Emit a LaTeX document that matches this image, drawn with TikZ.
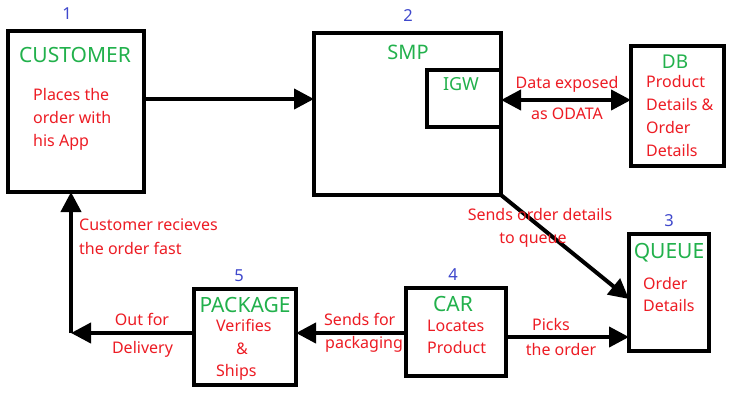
\documentclass[tikz,border=0pt]{standalone}
\usepackage{fontspec}
\setmainfont{Noto Sans}
\usetikzlibrary{arrows.meta}
\definecolor{pgreen}{HTML}{22B14C}
\definecolor{pred}{HTML}{ED1C24}
\definecolor{pblue}{HTML}{3F48CC}
\tikzset{
  box/.style={draw, line width=4pt, inner sep=0pt, outer sep=0pt},
  ttl/.style={text=pgreen, font=\fontsize{21}{24}\selectfont, inner sep=0pt},
  desc/.style={text=pred, font=\fontsize{16}{20}\selectfont, inner sep=0pt},
  num/.style={text=pblue, font=\fontsize{16.5}{20}\selectfont, inner sep=0pt, anchor=base},
  arr/.style={line width=4pt, -{Triangle[length=20pt,width=20pt]}},
  darr/.style={line width=4pt, {Triangle[length=20pt,width=20pt]}-{Triangle[length=20pt,width=20pt]}},
}
\begin{document}
\begin{tikzpicture}[x=1pt,y=-1pt]
\useasboundingbox[fill=white] (0,0) rectangle (738,405);

% boxes
\node[box, minimum width=136pt, minimum height=161pt] (cust)  at (76,111.5) {};
\node[box, minimum width=187pt, minimum height=162pt] (smp)   at (407.5,114) {};
\node[box, minimum width=74pt,  minimum height=57pt]  (igw)   at (464,98.5) {};
\node[box, minimum width=93pt,  minimum height=120pt] (db)    at (677.5,106) {};
\node[box, minimum width=80pt,  minimum height=117pt] (queue) at (669,292.5) {};
\node[box, minimum width=100pt, minimum height=88pt]  (car)   at (456,332) {};
\node[box, minimum width=102pt, minimum height=96pt]  (pkg)   at (245,337) {};

% numbers
\node[num] (n1) at (67,19) {1};
\node[num] (n2) at (408,21.7) {2};
\node[num] (n3) at (669,226.7) {3};
\node[num] (n4) at (453,280) {4};
\node[num] (n5) at (239,281) {5};

% titles
\node[ttl, anchor=base] (tcust) at (75,62.7) {CUSTOMER};
\node[ttl, anchor=base, font=\fontsize{20}{24}\selectfont] (tsmp) at (408,59) {SMP};
\node[ttl, anchor=base, font=\fontsize{18}{22}\selectfont] (tigw) at (461,90.7) {IGW};
\node[ttl, anchor=base, font=\fontsize{19}{22}\selectfont] (tdb) at (675,68.3) {DB};
\node[ttl, anchor=base] (tqueue) at (669,258.3) {QUEUE};
\node[ttl, anchor=base] (tcar) at (453,311.7) {CAR};
\node[ttl, anchor=base] (tpkg) at (245,312.3) {PACKAGE};

% descriptions in boxes
\node[desc, anchor=base west] (dc1) at (33,100) {Places the};
\node[desc, anchor=base west] (dc2) at (33,123) {order with};
\node[desc, anchor=base west] (dc3) at (33,146) {his App};

\node[desc, anchor=base west] (dd1) at (646,87.7) {Product};
\node[desc, anchor=base west] (dd2) at (646,110.7) {Details \&};
\node[desc, anchor=base west] (dd3) at (646,133.3) {Order};
\node[desc, anchor=base west] (dd4) at (646,156) {Details};

\node[desc, anchor=base west] (dq1) at (643,289) {Order};
\node[desc, anchor=base west] (dq2) at (643,311.7) {Details};

\node[desc, anchor=base west] (dr1) at (427,331) {Locates};
\node[desc, anchor=base west] (dr2) at (427,353.3) {Product};

\node[desc, anchor=base west] (dp1) at (216,331) {Verifies};
\node[desc, anchor=base] (dp2) at (242,354) {\&};
\node[desc, anchor=base west] (dp3) at (216,376.7) {Ships};

% connectors
\coordinate (ya) at (0,99);
\coordinate (yb) at (0,100);
\coordinate (yq) at (0,299);
\coordinate (yc) at (0,337);
\coordinate (yd) at (0,333);
\coordinate (corner) at (71,333);

\draw[arr] (cust.east |- ya) -- (smp.west |- ya);
\draw[darr] (igw.east |- yb) -- (db.west |- yb);
\draw[arr] (smp.south east) -- (queue.west |- yq);
\draw[arr] (car.east |- yc) -- (queue.west |- yc);
\draw[arr] (car.west |- yd) -- (pkg.east |- yd);
\draw[arr] (pkg.west |- yd) -- (corner);
\draw[arr] (corner) -- (cust.south -| corner);

% connector labels
\node[desc, anchor=base] (l1a) at (567,88.3) {Data exposed};
\node[desc, anchor=base] (l1b) at (567,119.3) {as ODATA};
\node[desc, anchor=base] (l2a) at (540,220) {Sends order details};
\node[desc, anchor=base] (l2b) at (533,243.3) {to queue};
\node[desc, anchor=base] (l3a) at (551,330) {Picks};
\node[desc, anchor=base] (l3b) at (561,355) {the order};
\node[desc, anchor=base west] (l4a) at (324,325) {Sends for};
\node[desc, anchor=base west] (l4b) at (325,348.3) {packaging};
\node[desc, anchor=base] (l5a) at (142,325) {Out for};
\node[desc, anchor=base] (l5b) at (142.5,353.3) {Delivery};
\node[desc, anchor=base west] (l6a) at (79,230.7) {Customer recieves};
\node[desc, anchor=base west] (l6b) at (79,254) {the order fast};
\end{tikzpicture}
\end{document}
